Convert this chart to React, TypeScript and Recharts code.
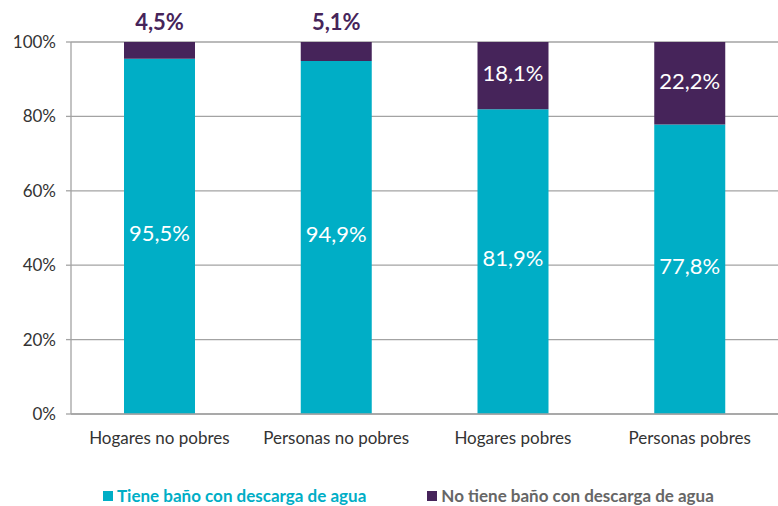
import { Bar, BarChart, CartesianGrid, LabelList, Legend, XAxis, YAxis } from "recharts";

const categories = ["Hogares no pobres", "Personas no pobres", "Hogares pobres", "Personas pobres"];
const tieneBano = [95.5, 94.9, 81.9, 77.8];
const noTieneBano = [4.5, 5.1, 18.1, 22.2];
const yTicks = [0, 20, 40, 60, 80, 100];
const bandEdges = [0, 1, 2, 3, 4];

const TEAL = "#00AEC6";
const PURPLE = "#46245A";
const GRID = "#a3a3a3";

const data = categories.map((name, i) => ({
  name,
  edge: i + 0.5,
  tiene: tieneBano[i],
  noTiene: noTieneBano[i]
}));

const fmt = (v: number) => `${v.toFixed(1).replace(".", ",")}%`;

function geom(props: any) {
  const vb = props.viewBox ?? {};
  return {
    x: Number(props.x ?? vb.x),
    y: Number(props.y ?? vb.y),
    w: Number(props.width ?? vb.width),
    h: Number(props.height ?? vb.height)
  };
}

function InsideLabel(props: any) {
  const { x, y, w, h } = geom(props);
  return (
    <text x={x + w / 2} y={y + h / 2 - 3} dy="0.35em" textAnchor="middle" fill="#ffffff" fontSize={22}>
      {fmt(Number(props.value))}
    </text>
  );
}

// las porciones chicas no caben dentro de la barra: la etiqueta va encima
function TopLabel(props: any) {
  const { x, y, w, h } = geom(props);
  const v = Number(props.value);
  if (v < 10) {
    return (
      <text x={x + w / 2} y={y - 20} dy="0.35em" textAnchor="middle" fill={PURPLE} fontSize={22} fontWeight={700}>
        {fmt(v)}
      </text>
    );
  }
  return (
    <text x={x + w / 2} y={y + h / 2 - 2} dy="0.35em" textAnchor="middle" fill="#ffffff" fontSize={22}>
      {fmt(v)}
    </text>
  );
}

function LegendBox() {
  const items = [
    { label: "Tiene baño con descarga de agua", color: TEAL, text: TEAL },
    { label: "No tiene baño con descarga de agua", color: PURPLE, text: "#666666" }
  ];
  return (
    <div style={{ display: "flex", height: 20, lineHeight: "20px", paddingLeft: 103, gap: 61 }}>
      {items.map((it) => (
        <div key={it.label} style={{ display: "flex", alignItems: "center", fontSize: 17, fontWeight: 700, color: it.text }}>
          <span style={{ width: 10, height: 10, background: it.color, marginRight: 4, display: "inline-block" }} />
          {it.label}
        </div>
      ))}
    </div>
  );
}

export default function App() {
  return (
    <div style={{ position: "absolute", left: 0, top: 0, width: 778, height: 506, background: "#fff", fontFamily: "Lato, sans-serif" }}>
      <BarChart width={778} height={506} data={data} margin={{ top: 42, right: 0, bottom: 42, left: 0 }}>
        <CartesianGrid vertical={false} stroke={GRID} strokeWidth={1.3} />
        <XAxis
          xAxisId="edges"
          dataKey="edge"
          type="number"
          domain={[0, 4]}
          ticks={bandEdges}
          tick={false}
          height={0}
          axisLine={false}
          tickSize={5}
          tickLine={{ stroke: GRID, strokeWidth: 1.3 }}
        />
        <XAxis
          dataKey="name"
          height={30}
          tickLine={false}
          tickMargin={12}
          axisLine={{ stroke: GRID, strokeWidth: 1.3 }}
          tick={{ fontSize: 17, fill: "#333333" }}
          interval={0}
        />
        <YAxis
          width={71}
          domain={[0, 100]}
          ticks={yTicks}
          tickFormatter={(v) => `${v}%`}
          tickSize={5}
          tickMargin={10}
          tick={{ fontSize: 17, fill: "#333333" }}
          tickLine={{ stroke: GRID, strokeWidth: 1.3 }}
          axisLine={{ stroke: GRID, strokeWidth: 1.3 }}
        />
        <Legend verticalAlign="bottom" content={<LegendBox />} wrapperStyle={{ bottom: 0, left: 0, width: 778 }} />
        <Bar dataKey="tiene" stackId="a" fill={TEAL} barSize={71} isAnimationActive={false}>
          <LabelList dataKey="tiene" content={<InsideLabel />} />
        </Bar>
        <Bar dataKey="noTiene" stackId="a" fill={PURPLE} barSize={71} isAnimationActive={false}>
          <LabelList dataKey="noTiene" content={<TopLabel />} />
        </Bar>
      </BarChart>
    </div>
  );
}
